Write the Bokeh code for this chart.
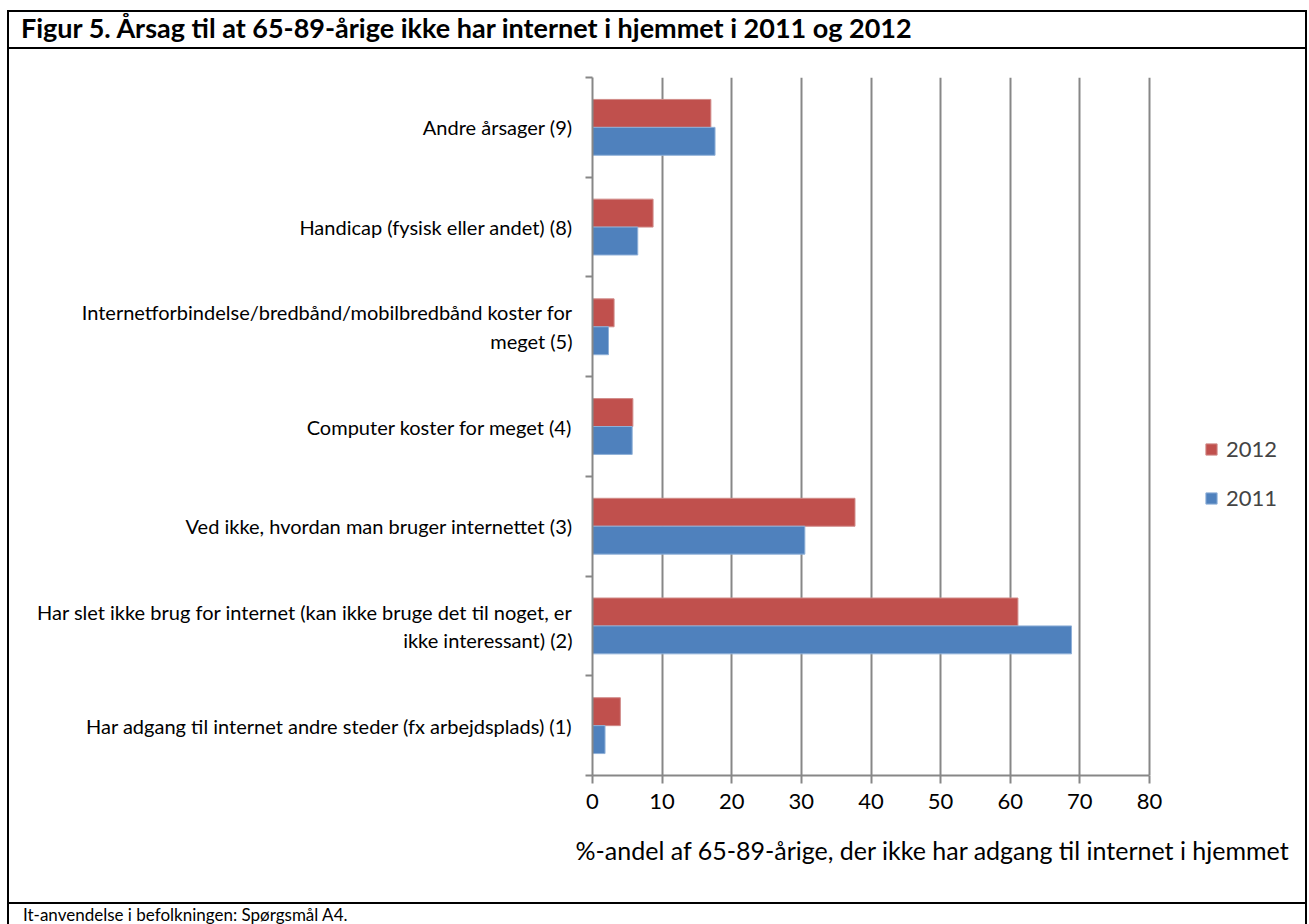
from bokeh.plotting import figure
from bokeh.models import (Range1d, FixedTicker, Legend, LegendItem, ColumnDataSource, Div,
                          Title)
from bokeh.layouts import column
from bokeh.embed import file_html
from bokeh.resources import INLINE
import numpy as np

# ---------------- data ----------------
categories = [
    "Har adgang til internet andre steder (fx arbejdsplads) (1)",
    "Har slet ikke brug for internet (kan ikke bruge det til noget, er\nikke interessant) (2)",
    "Ved ikke, hvordan man bruger internettet (3)",
    "Computer koster for meget (4)",
    "Internetforbindelse/bredbånd/mobilbredbånd koster for\nmeget (5)",
    "Handicap (fysisk eller andet) (8)",
    "Andre årsager (9)",
]
values_2012 = [4.0, 61.1, 37.7, 5.8, 3.1, 8.7, 17.0]
values_2011 = [1.8, 68.8, 30.5, 5.7, 2.3, 6.5, 17.6]
series_names = ["2012", "2011"]
x_ticks = [0, 10, 20, 30, 40, 50, 60, 70, 80]

title_text = "Figur 5. Årsag til at 65-89-årige ikke har internet i hjemmet i 2011 og 2012"
x_title = "%-andel af 65-89-årige, der ikke har adgang til internet i hjemmet"
footer_text = "It-anvendelse i befolkningen: Spørgsmål A4."

# ---------------- style / layout constants ----------------
FONT = "Lato"
RED = "#C0504D"
BLUE = "#4F81BD"
GRID = "#878787"
W = 1296               # inner width of the boxed figure
PLOT_W = 557           # pixel width of the 0..80 value scale
FRAME_W = 708          # frame also holds the legend area on the right
X_MAX = 80 * FRAME_W / PLOT_W

centers = np.arange(len(categories)) + 0.5
BAR_H = 0.28

title_div = Div(text=title_text, width=W, height=35, margin=0,
                styles={"font-family": FONT, "font-weight": "bold", "font-size": "27px",
                        "line-height": "32px", "text-indent": "12px", "color": "black",
                        "white-space": "nowrap", "overflow": "hidden"})
line_top = Div(text="", width=W, height=2, margin=0, styles={"background-color": "black"})

# ---------------- main chart ----------------
p = figure(width=W, height=853, x_range=Range1d(0, X_MAX), y_range=Range1d(0, len(categories)),
           output_backend="svg", toolbar_location=None,
           min_border_left=583, min_border_right=W - 583 - FRAME_W, min_border_top=28,
           min_border_bottom=127)
p.outline_line_color = None

src = ColumnDataSource(dict(y12=centers + BAR_H / 2, y11=centers - BAR_H / 2,
                            v12=values_2012, v11=values_2011))
r12 = p.hbar(y="y12", right="v12", left=0, height=BAR_H, source=src,
             fill_color=RED, line_color="#D08A88", line_width=1)
r11 = p.hbar(y="y11", right="v11", left=0, height=BAR_H, source=src,
             fill_color=BLUE, line_color="#8FB0D8", line_width=1)

p.xgrid.ticker = FixedTicker(ticks=x_ticks)
p.xgrid.grid_line_color = GRID
p.xgrid.grid_line_width = 2
p.ygrid.visible = False

xa = p.xaxis[0]
xa.ticker = FixedTicker(ticks=x_ticks)
xa.bounds = (x_ticks[0], x_ticks[-1])
xa.axis_line_color = GRID
xa.axis_line_width = 2
xa.major_tick_line_color = GRID
xa.major_tick_line_width = 2
xa.major_tick_out = 8
xa.major_tick_in = 0
xa.minor_tick_line_color = None
xa.major_label_text_font = FONT
xa.major_label_text_font_size = "22px"
xa.major_label_text_color = "black"
xa.major_label_standoff = 10

# axis title (placed as a below-title so it can sit off-centre like the original)
xt = Title(text=x_title, align="left", offset=-17, standoff=43,
           text_font=FONT, text_font_size="25px", text_font_style="normal",
           text_color="black")
p.add_layout(xt, "below")

ya = p.yaxis[0]
ya.ticker = FixedTicker(ticks=list(centers), minor_ticks=list(range(len(categories) + 1)))
ya.major_label_overrides = {float(c): lab for c, lab in zip(centers, categories)}
ya.axis_line_color = GRID
ya.axis_line_width = 2
ya.major_tick_out = 0
ya.major_tick_in = 0
ya.major_tick_line_color = None
ya.minor_tick_line_color = GRID
ya.minor_tick_line_width = 2
ya.minor_tick_out = 7
ya.minor_tick_in = 0
ya.major_label_text_font = FONT
ya.major_label_text_font_size = "20px"
ya.major_label_text_color = "black"
ya.major_label_standoff = 13

legend = Legend(items=[LegendItem(label=series_names[0], renderers=[r12]),
                       LegendItem(label=series_names[1], renderers=[r11])],
                location=(612, 264), orientation="vertical",
                glyph_width=14, glyph_height=14, label_height=26, spacing=22,
                label_standoff=8, padding=0, margin=0,
                label_text_font=FONT, label_text_font_size="22px",
                border_line_color=None, background_fill_alpha=0)
p.add_layout(legend, "center")

# ---------------- footer ----------------
line_bot = Div(text="", width=W, height=2, margin=0, styles={"background-color": "black"})
footer_div = Div(text=footer_text, width=W, height=20, margin=0,
                 styles={"font-family": FONT, "font-size": "17px", "line-height": "22px",
                         "text-indent": "14px", "color": "black", "white-space": "nowrap",
                         "overflow": "hidden"})

layout = column(title_div, line_top, p, line_bot, footer_div, spacing=0,
                styles={"border-top": "2px solid black", "border-left": "2px solid black",
                        "border-right": "2px solid black",
                        "margin-left": "7px", "margin-top": "10px"})

with open("out.html", "w") as f:
    f.write(file_html(layout, INLINE))
